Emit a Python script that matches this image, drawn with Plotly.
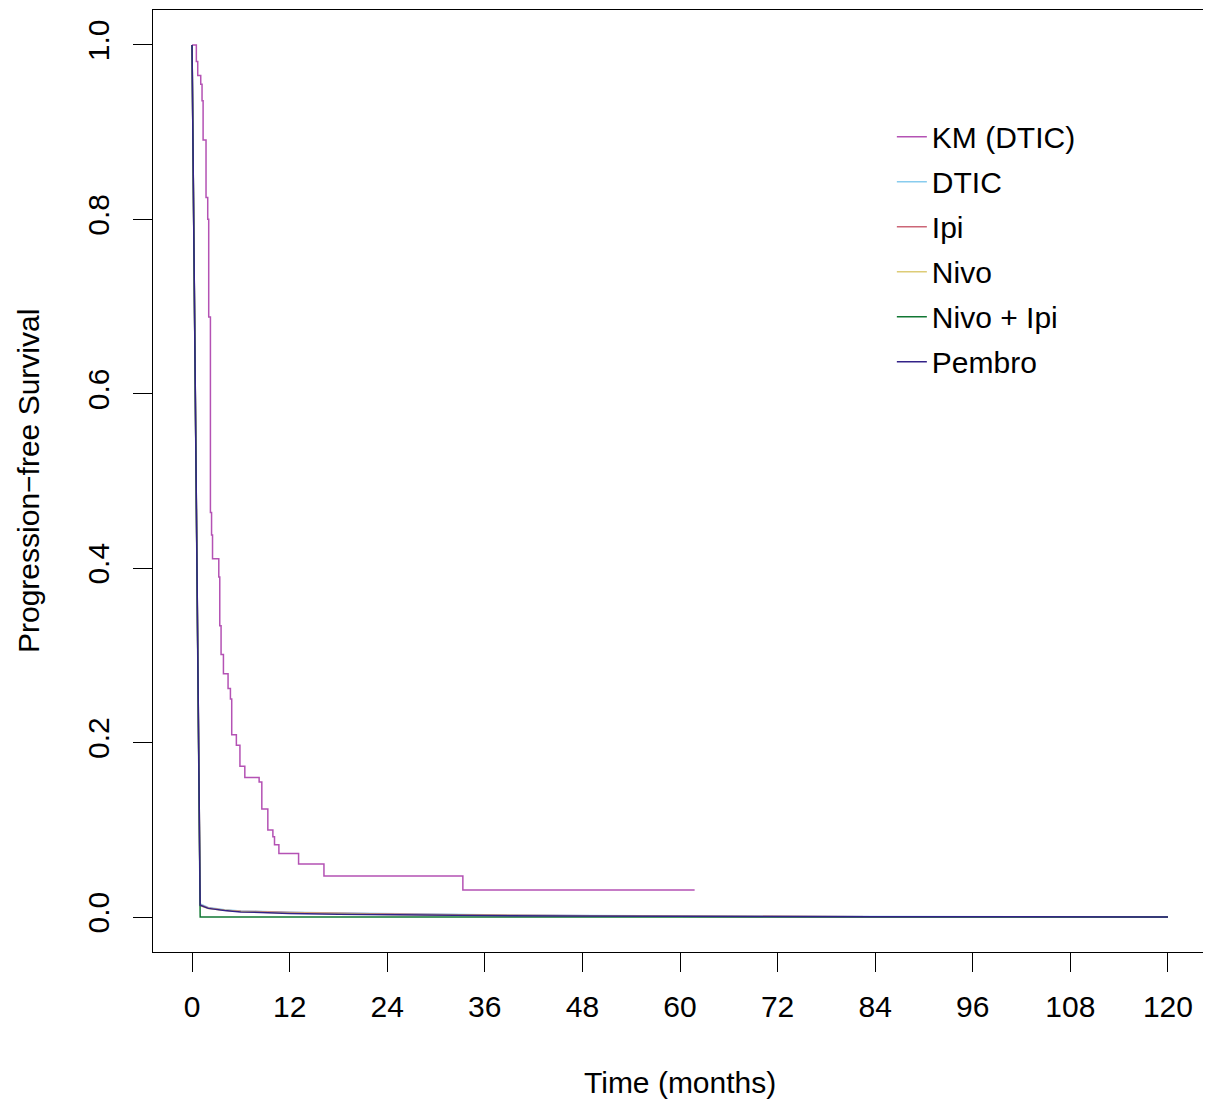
import plotly.graph_objects as go

# Kaplan-Meier (DTIC) step data (months, survival)
km_time = [0, 0.53, 0.70, 1.07, 1.23, 1.36, 1.72, 1.93, 2.05, 2.26, 2.40, 2.52, 3.29, 3.41,
           3.57, 3.86, 4.43, 4.72, 4.88, 5.45, 5.89, 6.49, 8.25, 8.58, 9.32, 9.94, 10.14,
           10.68, 13.10, 16.22, 33.3, 61.8]
km_surv = [1.0, 0.981, 0.965, 0.955, 0.936, 0.891, 0.825, 0.800, 0.688, 0.464, 0.438, 0.411,
           0.390, 0.334, 0.301, 0.279, 0.262, 0.250, 0.209, 0.197, 0.173, 0.160, 0.155, 0.124,
           0.100, 0.092, 0.083, 0.073, 0.061, 0.047, 0.031, 0.031]

# Model-based curves (months, survival)
model_time = [0, 1, 2, 3, 4, 6, 9, 12, 18, 24, 36, 48, 60, 84, 120]
dtic_surv = [1.0, 0.015, 0.011, 0.0095, 0.0085, 0.007, 0.006, 0.0055, 0.0048, 0.0038, 0.0026,
             0.0018, 0.0012, 0.0006, 0.0003]
ipi_surv = [1.0, 0.014, 0.0105, 0.009, 0.008, 0.0068, 0.0058, 0.0052, 0.0045, 0.0035, 0.0024,
            0.0016, 0.0011, 0.0005, 0.0002]
nivo_surv = [1.0, 0.013, 0.0100, 0.0088, 0.0078, 0.0064, 0.0054, 0.0048, 0.0040, 0.0030, 0.0020,
             0.0013, 0.0009, 0.0004, 0.0002]
nivoipi_time = [0, 1, 120]
nivoipi_surv = [1.0, 0.0, 0.0]
pembro_surv = [1.0, 0.0137, 0.010, 0.0085, 0.0075, 0.006, 0.005, 0.0042, 0.0034, 0.0026, 0.0018,
               0.0012, 0.0008, 0.0004, 0.0002]

x_ticks = [0, 12, 24, 36, 48, 60, 72, 84, 96, 108, 120]
y_ticks = [0.0, 0.2, 0.4, 0.6, 0.8, 1.0]
y_tick_labels = ["0.0", "0.2", "0.4", "0.6", "0.8", "1.0"]

FONT = "Liberation Sans, Arial, sans-serif"
LW = 1.5

fig = go.Figure()
series = [
    ("KM (DTIC)", km_time, km_surv, "#B452B4", "hv"),
    ("DTIC", model_time, dtic_surv, "#88CCEE", "linear"),
    ("Ipi", model_time, ipi_surv, "#CC6677", "linear"),
    ("Nivo", model_time, nivo_surv, "#DDCC77", "linear"),
    ("Nivo + Ipi", nivoipi_time, nivoipi_surv, "#117733", "linear"),
    ("Pembro", model_time, pembro_surv, "#332288", "linear"),
]
for name, t, s, col, shape in series:
    fig.add_trace(go.Scatter(x=t, y=s, mode="lines", name=name, legendgroup=name,
                             line=dict(color=col, width=LW, shape=shape)))

# page body has an 8px margin, so the figure is sized/offset to compensate
fig.update_layout(
    width=1203, height=1091,
    margin=dict(l=145, r=4, t=2, b=147),
    paper_bgcolor="white", plot_bgcolor="white",
    font=dict(family=FONT, size=30, color="black"),
    showlegend=True,
    legend=dict(x=0.701, y=0.893, xanchor="left", yanchor="top",
                bgcolor="rgba(0,0,0,0)", font=dict(size=30),
                tracegroupgap=3, itemwidth=30),
)
fig.update_xaxes(range=[-4.8, 124.8], tickvals=x_ticks, ticktext=[str(v) for v in x_ticks],
                 showgrid=False, zeroline=False, showline=True, mirror=True,
                 linecolor="black", linewidth=1.3, ticks="outside", ticklen=19,
                 tickwidth=1.3, tickcolor="black", ticklabelstandoff=9)
fig.update_yaxes(range=[-0.04, 1.04], tickvals=y_ticks, ticktext=y_tick_labels,
                 tickangle=-90, showgrid=False, zeroline=False, showline=True, mirror=True,
                 linecolor="black", linewidth=1.3, ticks="outside", ticklen=19,
                 tickwidth=1.3, tickcolor="black", ticklabelstandoff=12)

fig.add_annotation(text="Time (months)", xref="paper", yref="paper", x=0.5, y=0,
                   xanchor="center", yanchor="middle", yshift=-130, showarrow=False,
                   font=dict(size=30))
fig.add_annotation(text="Progression\u2212free Survival", xref="paper", yref="paper",
                   x=0, y=0.5, xanchor="center", yanchor="middle", xshift=-125,
                   textangle=-90, showarrow=False, font=dict(size=30))

fig.write_html("out.html")
